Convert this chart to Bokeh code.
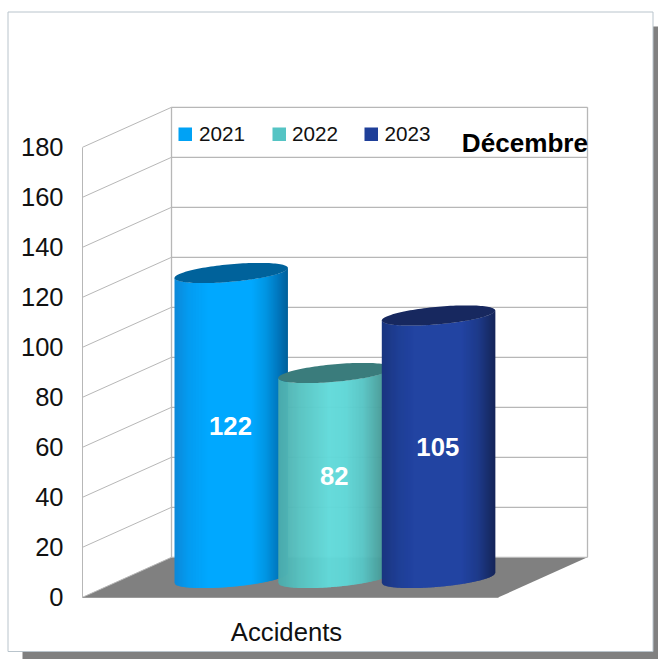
from bokeh.plotting import figure
from bokeh.core.properties import value
from bokeh.models import FixedTicker, Range1d
from bokeh.embed import file_html
from bokeh.resources import INLINE
import numpy as np

# ---- data
categories = ["Accidents"]
series_names = ["2021", "2022", "2023"]
series_values = [122, 82, 105]
tick_values = [0, 20, 40, 60, 80, 100, 120, 140, 160, 180]
chart_title = "Décembre"

# ---- styling / layout
W, H = 658, 659
Y0 = 596.8          # pixel of value 0 on the front wall
K = 2.5             # pixels per unit
FONT = value("Liberation Sans")
GRID = "#b7b7b7"
body_stops = [
    [(0, "#0d88d8"), (.12, "#049bf0"), (.3, "#00a8ff"), (.68, "#00a8ff"), (.8, "#0096e4"), (.91, "#0078bf"), (1, "#005f99")],
    [(0, "#4cabab"), (.2, "#58c4c2"), (.45, "#62dada"), (.6, "#5fd6d6"), (.75, "#58c4c4"), (.9, "#4a9f9c"), (1, "#3f8585")],
    [(0, "#1a3580"), (.15, "#1f3f96"), (.3, "#2244a3"), (.7, "#2244a3"), (.85, "#1e3a8a"), (.95, "#182c68"), (1, "#15255a")],
]
top_colors = ["#00629b", "#3a7c7c", "#17285f"]
legend_colors = ["#00a2f5", "#55c4c4", "#1f3f99"]
centers = [230.7, 334.5, 438.0]
half_width = 56.7
half_minor = 8.8
tilt = -0.088
base_px = 577.5
legend_sw_x = [178, 272, 364]
legend_tx_x = [198.5, 291.5, 384]


def V(py):
    return (Y0 - py) / K


def hexrgb(c):
    return np.array([int(c[i:i + 2], 16) for i in (1, 3, 5)], float)


def shade(stops, t):
    ts = [s[0] for s in stops]
    cs = np.array([hexrgb(s[1]) for s in stops])
    r = [np.interp(t, ts, cs[:, i]) for i in range(3)]
    return "#%02x%02x%02x" % tuple(int(round(v)) for v in r)


p = figure(width=W, height=H, output_backend="svg", toolbar_location=None,
           x_range=Range1d(0, W), y_range=Range1d(V(H), V(0)),
           min_border=0, min_border_left=0, min_border_right=0, min_border_top=0, min_border_bottom=0,
           outline_line_color=None, margin=(0, 0, 0, 0))
p.grid.visible = False
p.background_fill_color = "white"
p.border_fill_color = "white"

# page card and its shadow
p.quad(left=[22], right=[658], top=[V(26)], bottom=[V(659)], fill_color="#808080", line_color=None)
p.quad(left=[7.5], right=[652.5], top=[V(11.5)], bottom=[V(651)], fill_color="white", line_color="#b9c4cc", line_width=1)

# floor
p.patch([82, 498, 587, 171], [0, 0, 16, 16], fill_color="#808080", line_color=None)

# walls
gv = np.array(tick_values, float)
p.segment(x0=[82] * len(gv), y0=gv, x1=[171] * len(gv), y1=gv + 16, line_color=GRID, line_width=1)
p.segment(x0=[171] * len(gv), y0=gv + 16, x1=[587] * len(gv), y1=gv + 16, line_color=GRID, line_width=1.3)
p.segment(x0=[171, 587], y0=[16, 16], x1=[171, 587], y1=[196, 196], line_color=GRID, line_width=1.3)

# cylinders
for i, val in enumerate(series_values):
    cx = centers[i]
    xs = np.arange(cx - half_width, cx + half_width, 1.0)
    top_px = base_px - val * K
    sx, sy, sc = [], [], []
    for x0 in xs:
        x1 = min(x0 + 1.6, cx + half_width)
        xm = np.array([x0, x1])
        u = np.clip((xm - cx) / half_width, -1, 1)
        lo = half_minor * np.sqrt(1 - u ** 2)
        y_top = top_px + tilt * (xm - cx) + lo
        y_bot = base_px + tilt * (xm - cx) + lo
        sx.append([x0, x1, x1, x0])
        sy.append([V(y_top[0]), V(y_top[1]), V(y_bot[1]), V(y_bot[0])])
        sc.append(shade(body_stops[i], (x0 + .5 - (cx - half_width)) / (2 * half_width)))
    p.patches(sx, sy, fill_color=sc, line_color=None)
    th = np.linspace(0, 2 * np.pi, 121)
    ex = cx + half_width * np.cos(th)
    ey = top_px + tilt * (ex - cx) + half_minor * np.sin(th)
    p.patch(ex, V(ey), fill_color=top_colors[i], line_color=None)

# value labels
base_v = V(base_px)
p.text(x=[c - 0.7 for c in centers], y=[base_v + v / 2 for v in series_values], text=[str(v) for v in series_values],
       text_color="white", text_font=FONT, text_font_style="bold", text_font_size="25.7px",
       text_align="center", text_baseline="middle")

# legend
for i, name in enumerate(series_names):
    p.quad(left=[legend_sw_x[i]], right=[legend_sw_x[i] + 13.5], top=[V(127)], bottom=[V(140.5)],
           fill_color=legend_colors[i], line_color=None)
p.text(x=legend_tx_x, y=[V(133.5)] * 3, text=series_names, text_color="#111111", text_font=FONT,
       text_font_size="20.7px", text_align="left", text_baseline="middle")

# title
p.text(x=[587.5], y=[V(142)], text=[chart_title], text_color="black", text_font=FONT, text_font_style="bold",
       text_font_size="26.1px", text_align="right", text_baseline="middle")

# axes
ya = p.yaxis[0]
ya.fixed_location = 82
ya.bounds = (0, 180)
ya.ticker = FixedTicker(ticks=tick_values)
ya.axis_line_color = GRID
ya.axis_line_width = 1
ya.major_tick_line_color = None
ya.minor_tick_line_color = None
ya.major_tick_out = 0
ya.major_tick_in = 0
ya.major_label_standoff = 19
ya.major_label_text_font = "Liberation Sans"
ya.major_label_text_font_size = "25.5px"
ya.major_label_text_color = "#111111"

xa = p.xaxis[0]
xa.fixed_location = 0
xa.bounds = (82, 498)
xa.ticker = FixedTicker(ticks=[286])
xa.major_label_overrides = {286: categories[0]}
xa.axis_line_color = "#9a9a9a"
xa.axis_line_width = 1
xa.major_tick_line_color = None
xa.minor_tick_line_color = None
xa.major_tick_out = 0
xa.major_tick_in = 0
xa.major_label_standoff = 21
xa.major_label_text_font = "Liberation Sans"
xa.major_label_text_font_size = "25.7px"
xa.major_label_text_color = "#111111"

open("out.html", "w").write(file_html(p, INLINE))
